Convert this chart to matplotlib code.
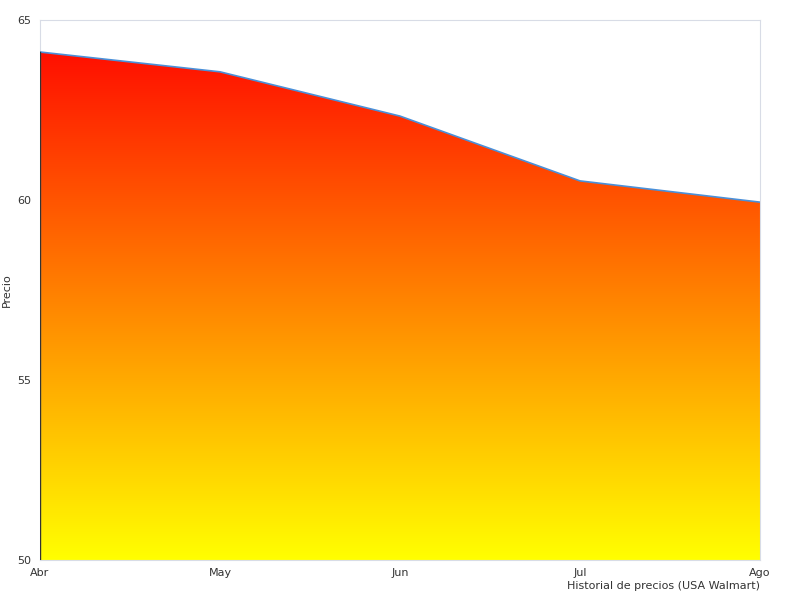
import numpy as np
import matplotlib
matplotlib.use("Agg")
import matplotlib.pyplot as plt
from matplotlib.colors import LinearSegmentedColormap
from matplotlib.patches import Polygon

months = ["Abr", "May", "Jun", "Jul", "Ago"]
prices = [64.11, 63.56, 62.33, 60.53, 59.94]

fig = plt.figure(figsize=(8, 6), dpi=100)
ax = fig.add_axes([0.05, 0.0667, 0.90, 0.90])
x = np.arange(len(months))
ymin, ymax = 50, 65
cmap = LinearSegmentedColormap.from_list("ry", ["#ffff00", "#ff0000"])
grad = np.linspace(0, 1, 256).reshape(-1, 1)
im = ax.imshow(grad, cmap=cmap, origin="lower", aspect="auto",
               extent=[x[0], x[-1], ymin, ymax], zorder=1)
poly = Polygon(list(zip(x, prices)) + [(x[-1], ymin), (x[0], ymin)],
               closed=True, facecolor="none", edgecolor="none")
ax.add_patch(poly)
im.set_clip_path(poly)
ax.plot(x, prices, color="#4a90d9", lw=1.2, zorder=3)
ax.plot([x[0], x[0]], [ymin, prices[0]], color="#333333", lw=1, zorder=3)
ax.set_xlim(x[0], x[-1])
ax.set_ylim(ymin, ymax)
ax.set_xticks(x)
ax.set_xticklabels(months)
ax.set_yticks([50, 55, 60, 65])
ax.tick_params(length=0, labelsize=8, colors="#333333", pad=6)
for s in ax.spines.values():
    s.set_color("#d8dce6")
ax.set_ylabel("Precio", fontsize=8, color="#333333")
ax.set_xlabel("Historial de precios (USA Walmart)", fontsize=8, color="#333333", loc="right", labelpad=2)
fig.savefig("out.png", dpi=100)
